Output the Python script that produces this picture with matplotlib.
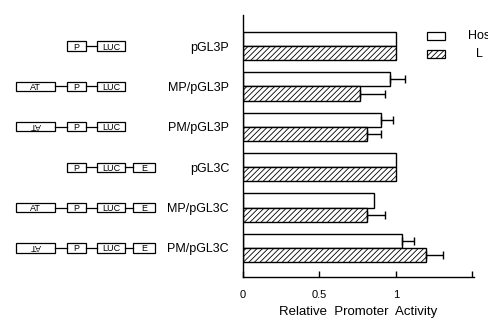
import numpy as np
import matplotlib
matplotlib.use("Agg")
import matplotlib.pyplot as plt
from matplotlib.patches import Rectangle

plt.rcParams['font.family'] = ['Liberation Sans', 'DejaVu Sans']
plt.rcParams['hatch.linewidth'] = 0.6

# ---- data ----
constructs = ["pGL3P", "MP/pGL3P", "PM/pGL3P", "pGL3C", "MP/pGL3C", "PM/pGL3C"]
host_vals = [1.0, 0.96, 0.90, 1.0, 0.855, 1.04]
host_err = [0.0, 0.10, 0.08, 0.0, 0.0, 0.08]
l_vals = [1.0, 0.765, 0.81, 1.0, 0.81, 1.195]
l_err = [0.0, 0.165, 0.09, 0.0, 0.12, 0.11]
series_names = ["Host", "L"]
x_ticks = [0, 0.5, 1, 1.5]
x_tick_labels = ["0", "0.5", "1", ""]
diagrams = [
    ["P", "LUC"],
    ["AT", "P", "LUC"],
    ["AT_rev", "P", "LUC"],
    ["P", "LUC", "E"],
    ["AT", "P", "LUC", "E"],
    ["AT_rev", "P", "LUC", "E"],
]

W, H = 488, 320
fig = plt.figure(figsize=(W / 100, H / 100), dpi=100)

left_px, right_px, top_px, bot_px = 243, 474, 15, 277
ax = fig.add_axes([left_px / W, 1 - bot_px / H, (right_px - left_px) / W, (bot_px - top_px) / H])

y = np.arange(len(constructs))
bh = 0.35
ax.barh(y - bh / 2, host_vals, height=bh, color="white", edgecolor="black", linewidth=1.0)
ax.barh(y + bh / 2, l_vals, height=bh, color="white", edgecolor="black", linewidth=1.0, hatch="//////")
for yi, v, e in zip(y, host_vals, host_err):
    if e > 0:
        ax.errorbar(v, yi - bh / 2, xerr=[[0], [e]], fmt="none", ecolor="black", elinewidth=1.0, capsize=2.8, capthick=1.0)
for yi, v, e in zip(y, l_vals, l_err):
    if e > 0:
        ax.errorbar(v, yi + bh / 2, xerr=[[0], [e]], fmt="none", ecolor="black", elinewidth=1.0, capsize=2.8, capthick=1.0)

ax.set_xlim(0, 1.51)
ax.set_ylim(5.72, -0.77)
ax.spines['top'].set_visible(False)
ax.spines['right'].set_visible(False)
ax.spines['left'].set_linewidth(1.0)
ax.spines['bottom'].set_linewidth(1.0)
ax.set_xticks(x_ticks)
ax.set_xticklabels(x_tick_labels, fontsize=8)
ax.tick_params(axis='x', direction='in', length=4, width=1.0, pad=9)
ax.set_yticks(y)
ax.set_yticklabels(constructs, fontsize=9)
ax.tick_params(axis='y', length=0, pad=10)
ax.set_xlabel("Relative  Promoter  Activity", fontsize=9.5, labelpad=5)

# ---- diagrams ----
ax2 = fig.add_axes([0, 1 - bot_px / H, left_px / W, (bot_px - top_px) / H], sharey=ax)
ax2.set_xlim(0, left_px)
ax2.axis('off')
layout = {"AT": (16, 39), "AT_rev": (16, 39), "P": (67, 19), "LUC": (97, 28), "E": (133, 22)}
box_h = 0.23
for yi, comps in zip(y, diagrams):
    prev_end = None
    for c in comps:
        x0, w = layout[c]
        if prev_end is not None:
            ax2.plot([prev_end, x0], [yi, yi], color="black", lw=0.9)
        ax2.add_patch(Rectangle((x0, yi - box_h / 2), w, box_h, fill=False, edgecolor="black", lw=0.9))
        label = "AT" if c.startswith("AT") else c
        rot = 180 if c == "AT_rev" else 0
        ax2.text(x0 + w / 2, yi, label, ha="center", va="center_baseline", fontsize=6.5, rotation=rot,
                 rotation_mode="anchor")
        prev_end = x0 + w

# ---- legend ----
leg = [(427, 32, series_names[0], None, 468), (427, 50, series_names[1], "//////", 476)]
for x0, y0, name, hatch, tx in leg:
    fig.patches.append(Rectangle((x0 / W, 1 - (y0 + 8) / H), 18 / W, 8 / H, transform=fig.transFigure,
                                 facecolor="white", edgecolor="black", lw=0.9, hatch=hatch))
    fig.text(tx / W, 1 - (y0 + 4) / H, name, fontsize=9, va="center", ha="left")

fig.savefig("out.png", dpi=100)
